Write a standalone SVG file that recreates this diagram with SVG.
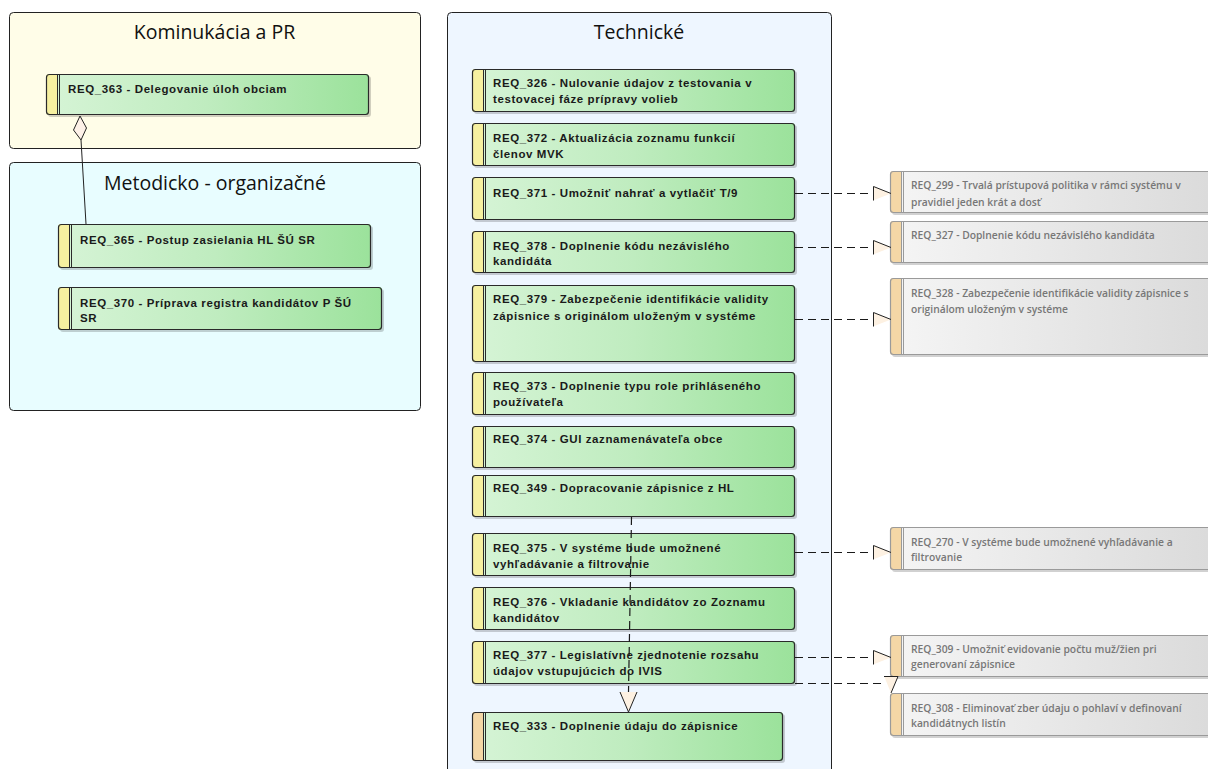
<svg xmlns="http://www.w3.org/2000/svg" width="1208" height="769" viewBox="0 0 1208 769">
<defs>
<linearGradient id="gGreen" x1="0" y1="0" x2="1" y2="0">
<stop offset="0" stop-color="#d6f4d6"/>
<stop offset="0.5" stop-color="#bfecbf"/>
<stop offset="1" stop-color="#9be29b"/>
</linearGradient>
<linearGradient id="gGrey" x1="0" y1="0" x2="1" y2="0">
<stop offset="0" stop-color="#f5f5f5"/>
<stop offset="1" stop-color="#dadada"/>
</linearGradient>
<style>
.cont{stroke:#222;stroke-width:1}
.title{font-family:"Open Sans","Liberation Sans",sans-serif;font-size:19.5px;fill:#111;text-anchor:middle}
.sh{fill:#000;opacity:0.18}
.gbody{fill:url(#gGreen);stroke:none}
.gout{fill:none;stroke:#2a2a2a;stroke-width:1.2}
.ybar{fill:#f6f0a0}
.obar{fill:#f4d7a6}
.dl{stroke:#2a2a2a;stroke-width:1}
.gt{font-family:"Liberation Sans",Arial,sans-serif;font-size:11.5px;font-weight:bold;fill:#1a1a1a;letter-spacing:0.6px}
.rbody{fill:url(#gGrey);stroke:none}
.rout{fill:none;stroke:#9a9a9a;stroke-width:1.2}
.rdl{stroke:#9a9a9a;stroke-width:1}
.rt{font-family:"Open Sans","Liberation Sans",sans-serif;font-size:10.3px;font-weight:600;fill:#777}
.dash{fill:none;stroke:#1a1a1a;stroke-width:1.2;stroke-dasharray:8,5}
.solid{fill:none;stroke:#222;stroke-width:1}
.ahf{fill:#fdf1e2;stroke:none}
.ahs{fill:none;stroke:#222;stroke-width:1}
</style>
</defs>

<!-- containers -->
<g id="kominukacia">
<rect class="cont" x="9.5" y="12.5" width="411" height="136" rx="4" fill="#fffde8"/>
<text class="title" x="214.5" y="39">Kominukácia a PR</text>
</g>
<g id="metodicko">
<rect class="cont" x="9.5" y="162.5" width="411" height="248" rx="4" fill="#e8fdff"/>
<text class="title" x="215" y="190">Metodicko - organizačné</text>
</g>
<g id="technicke">
<rect class="cont" x="447.5" y="12.5" width="384" height="770" rx="4" fill="#eef6ff"/>
<text class="title" x="639" y="39">Technické</text>
</g>

<!-- left nodes -->
<g id="REQ_363">
<rect class="sh" x="48" y="76" width="323" height="41" rx="3"/>
<rect class="gbody" x="46" y="74" width="323" height="41" rx="3"/>
<path class="ybar" d="M57,74 H49 Q46,74 46,77 V112 Q46,115 49,115 H57 Z"/>
<line class="dl" x1="57.5" y1="74" x2="57.5" y2="115"/><line class="dl" x1="59.5" y1="74" x2="59.5" y2="115"/>
<rect class="gout" x="46.5" y="74.5" width="322" height="40" rx="3"/>
<text class="gt" x="68" y="93">REQ_363 - Delegovanie úloh obciam</text>
</g>
<g id="REQ_365">
<rect class="sh" x="60" y="226" width="313" height="44" rx="3"/>
<rect class="gbody" x="58" y="224" width="313" height="44" rx="3"/>
<path class="ybar" d="M69,224 H61 Q58,224 58,227 V265 Q58,268 61,268 H69 Z"/>
<line class="dl" x1="69.5" y1="224" x2="69.5" y2="268"/><line class="dl" x1="71.5" y1="224" x2="71.5" y2="268"/>
<rect class="gout" x="58.5" y="224.5" width="312" height="43" rx="3"/>
<text class="gt" x="80" y="244">REQ_365 - Postup zasielania HL ŠÚ SR</text>
</g>
<g id="REQ_370">
<rect class="sh" x="60" y="289" width="324" height="43" rx="3"/>
<rect class="gbody" x="58" y="287" width="324" height="43" rx="3"/>
<path class="ybar" d="M69,287 H61 Q58,287 58,290 V327 Q58,330 61,330 H69 Z"/>
<line class="dl" x1="69.5" y1="287" x2="69.5" y2="330"/><line class="dl" x1="71.5" y1="287" x2="71.5" y2="330"/>
<rect class="gout" x="58.5" y="287.5" width="323" height="42" rx="3"/>
<text class="gt" x="80" y="307">REQ_370 - Príprava registra kandidátov P ŠÚ</text>
<text class="gt" x="80" y="322">SR</text>
</g>

<!-- technical nodes -->
<g id="REQ_326">
<rect class="sh" x="474" y="71" width="323" height="43" rx="3"/>
<rect class="gbody" x="472" y="69" width="323" height="43" rx="3"/>
<path class="ybar" d="M483,69 H475 Q472,69 472,72 V109 Q472,112 475,112 H483 Z"/>
<line class="dl" x1="483.5" y1="69" x2="483.5" y2="112"/><line class="dl" x1="485.5" y1="69" x2="485.5" y2="112"/>
<rect class="gout" x="472.5" y="69.5" width="322" height="42" rx="3"/>
<text class="gt" x="493" y="87">REQ_326 - Nulovanie údajov z testovania v</text>
<text class="gt" x="493" y="103">testovacej fáze prípravy volieb</text>
</g>
<g id="REQ_372">
<rect class="sh" x="474" y="125" width="323" height="43" rx="3"/>
<rect class="gbody" x="472" y="123" width="323" height="43" rx="3"/>
<path class="ybar" d="M483,123 H475 Q472,123 472,126 V163 Q472,166 475,166 H483 Z"/>
<line class="dl" x1="483.5" y1="123" x2="483.5" y2="166"/><line class="dl" x1="485.5" y1="123" x2="485.5" y2="166"/>
<rect class="gout" x="472.5" y="123.5" width="322" height="42" rx="3"/>
<text class="gt" x="493" y="142">REQ_372 - Aktualizácia zoznamu funkcií</text>
<text class="gt" x="493" y="158">členov MVK</text>
</g>
<g id="REQ_371">
<rect class="sh" x="474" y="179" width="323" height="43" rx="3"/>
<rect class="gbody" x="472" y="177" width="323" height="43" rx="3"/>
<path class="ybar" d="M483,177 H475 Q472,177 472,180 V217 Q472,220 475,220 H483 Z"/>
<line class="dl" x1="483.5" y1="177" x2="483.5" y2="220"/><line class="dl" x1="485.5" y1="177" x2="485.5" y2="220"/>
<rect class="gout" x="472.5" y="177.5" width="322" height="42" rx="3"/>
<text class="gt" x="493" y="197">REQ_371 - Umožniť nahrať a vytlačiť T/9</text>
</g>
<g id="REQ_378">
<rect class="sh" x="474" y="233" width="323" height="42" rx="3"/>
<rect class="gbody" x="472" y="231" width="323" height="42" rx="3"/>
<path class="ybar" d="M483,231 H475 Q472,231 472,234 V270 Q472,273 475,273 H483 Z"/>
<line class="dl" x1="483.5" y1="231" x2="483.5" y2="273"/><line class="dl" x1="485.5" y1="231" x2="485.5" y2="273"/>
<rect class="gout" x="472.5" y="231.5" width="322" height="41" rx="3"/>
<text class="gt" x="493" y="250">REQ_378 - Doplnenie kódu nezávislého</text>
<text class="gt" x="493" y="265">kandidáta</text>
</g>
<g id="REQ_379">
<rect class="sh" x="474" y="287" width="323" height="77" rx="3"/>
<rect class="gbody" x="472" y="285" width="323" height="77" rx="3"/>
<path class="ybar" d="M483,285 H475 Q472,285 472,288 V359 Q472,362 475,362 H483 Z"/>
<line class="dl" x1="483.5" y1="285" x2="483.5" y2="362"/><line class="dl" x1="485.5" y1="285" x2="485.5" y2="362"/>
<rect class="gout" x="472.5" y="285.5" width="322" height="76" rx="3"/>
<text class="gt" x="493" y="303">REQ_379 - Zabezpečenie identifikácie validity</text>
<text class="gt" x="493" y="320">zápisnice s originálom uloženým v systéme</text>
</g>
<g id="REQ_373">
<rect class="sh" x="474" y="374" width="323" height="43" rx="3"/>
<rect class="gbody" x="472" y="372" width="323" height="43" rx="3"/>
<path class="ybar" d="M483,372 H475 Q472,372 472,375 V412 Q472,415 475,415 H483 Z"/>
<line class="dl" x1="483.5" y1="372" x2="483.5" y2="415"/><line class="dl" x1="485.5" y1="372" x2="485.5" y2="415"/>
<rect class="gout" x="472.5" y="372.5" width="322" height="42" rx="3"/>
<text class="gt" x="493" y="390">REQ_373 - Doplnenie typu role prihláseného</text>
<text class="gt" x="493" y="406">používateľa</text>
</g>
<g id="REQ_374">
<rect class="sh" x="474" y="428" width="323" height="42" rx="3"/>
<rect class="gbody" x="472" y="426" width="323" height="42" rx="3"/>
<path class="ybar" d="M483,426 H475 Q472,426 472,429 V465 Q472,468 475,468 H483 Z"/>
<line class="dl" x1="483.5" y1="426" x2="483.5" y2="468"/><line class="dl" x1="485.5" y1="426" x2="485.5" y2="468"/>
<rect class="gout" x="472.5" y="426.5" width="322" height="41" rx="3"/>
<text class="gt" x="493" y="443">REQ_374 - GUI zaznamenávateľa obce</text>
</g>
<g id="REQ_349">
<rect class="sh" x="474" y="477" width="323" height="42" rx="3"/>
<rect class="gbody" x="472" y="475" width="323" height="42" rx="3"/>
<path class="ybar" d="M483,475 H475 Q472,475 472,478 V514 Q472,517 475,517 H483 Z"/>
<line class="dl" x1="483.5" y1="475" x2="483.5" y2="517"/><line class="dl" x1="485.5" y1="475" x2="485.5" y2="517"/>
<rect class="gout" x="472.5" y="475.5" width="322" height="41" rx="3"/>
<text class="gt" x="493" y="492">REQ_349 - Dopracovanie zápisnice z HL</text>
</g>
<g id="REQ_375">
<rect class="sh" x="474" y="535" width="323" height="43" rx="3"/>
<rect class="gbody" x="472" y="533" width="323" height="43" rx="3"/>
<path class="ybar" d="M483,533 H475 Q472,533 472,536 V573 Q472,576 475,576 H483 Z"/>
<line class="dl" x1="483.5" y1="533" x2="483.5" y2="576"/><line class="dl" x1="485.5" y1="533" x2="485.5" y2="576"/>
<rect class="gout" x="472.5" y="533.5" width="322" height="42" rx="3"/>
<text class="gt" x="493" y="552">REQ_375 - V systéme bude umožnené</text>
<text class="gt" x="493" y="568">vyhľadávanie a filtrovanie</text>
</g>
<g id="REQ_376">
<rect class="sh" x="474" y="589" width="323" height="43" rx="3"/>
<rect class="gbody" x="472" y="587" width="323" height="43" rx="3"/>
<path class="ybar" d="M483,587 H475 Q472,587 472,590 V627 Q472,630 475,630 H483 Z"/>
<line class="dl" x1="483.5" y1="587" x2="483.5" y2="630"/><line class="dl" x1="485.5" y1="587" x2="485.5" y2="630"/>
<rect class="gout" x="472.5" y="587.5" width="322" height="42" rx="3"/>
<text class="gt" x="493" y="606">REQ_376 - Vkladanie kandidátov zo Zoznamu</text>
<text class="gt" x="493" y="622">kandidátov</text>
</g>
<g id="REQ_377">
<rect class="sh" x="474" y="643" width="323" height="43" rx="3"/>
<rect class="gbody" x="472" y="641" width="323" height="43" rx="3"/>
<path class="ybar" d="M483,641 H475 Q472,641 472,644 V681 Q472,684 475,684 H483 Z"/>
<line class="dl" x1="483.5" y1="641" x2="483.5" y2="684"/><line class="dl" x1="485.5" y1="641" x2="485.5" y2="684"/>
<rect class="gout" x="472.5" y="641.5" width="322" height="42" rx="3"/>
<text class="gt" x="493" y="659">REQ_377 - Legislatívne zjednotenie rozsahu</text>
<text class="gt" x="493" y="675">údajov vstupujúcich do IVIS</text>
</g>
<g id="REQ_333">
<rect class="sh" x="474" y="714" width="311" height="49" rx="3"/>
<rect class="gbody" x="472" y="712" width="311" height="49" rx="3"/>
<path class="obar" d="M483,712 H475 Q472,712 472,715 V758 Q472,761 475,761 H483 Z"/>
<line class="dl" x1="483.5" y1="712" x2="483.5" y2="761"/><line class="dl" x1="485.5" y1="712" x2="485.5" y2="761"/>
<rect class="gout" x="472.5" y="712.5" width="310" height="48" rx="3"/>
<text class="gt" x="493" y="730">REQ_333 - Doplnenie údaju do zápisnice</text>
</g>

<!-- right grey nodes -->
<g id="REQ_299">
<rect class="sh" x="892" y="173" width="330" height="42" rx="3"/>
<rect class="rbody" x="890" y="171" width="330" height="42" rx="3"/>
<path class="obar" d="M901,171 H893 Q890,171 890,174 V210 Q890,213 893,213 H901 Z"/>
<line class="rdl" x1="901.5" y1="171" x2="901.5" y2="213"/><line class="rdl" x1="903.5" y1="171" x2="903.5" y2="213"/>
<rect class="rout" x="890.5" y="171.5" width="329" height="41" rx="3"/>
<text class="rt" x="911" y="189">REQ_299 - Trvalá prístupová politika v rámci systému v</text>
<text class="rt" x="911" y="206">pravidiel jeden krát a dosť</text>
</g>
<g id="REQ_327">
<rect class="sh" x="892" y="223" width="330" height="42" rx="3"/>
<rect class="rbody" x="890" y="221" width="330" height="42" rx="3"/>
<path class="obar" d="M901,221 H893 Q890,221 890,224 V260 Q890,263 893,263 H901 Z"/>
<line class="rdl" x1="901.5" y1="221" x2="901.5" y2="263"/><line class="rdl" x1="903.5" y1="221" x2="903.5" y2="263"/>
<rect class="rout" x="890.5" y="221.5" width="329" height="41" rx="3"/>
<text class="rt" x="911" y="239">REQ_327 - Doplnenie kódu nezávislého kandidáta</text>
</g>
<g id="REQ_328">
<rect class="sh" x="892" y="280" width="330" height="77" rx="3"/>
<rect class="rbody" x="890" y="278" width="330" height="77" rx="3"/>
<path class="obar" d="M901,278 H893 Q890,278 890,281 V352 Q890,355 893,355 H901 Z"/>
<line class="rdl" x1="901.5" y1="278" x2="901.5" y2="355"/><line class="rdl" x1="903.5" y1="278" x2="903.5" y2="355"/>
<rect class="rout" x="890.5" y="278.5" width="329" height="76" rx="3"/>
<text class="rt" x="911" y="297">REQ_328 - Zabezpečenie identifikácie validity zápisnice s</text>
<text class="rt" x="911" y="313">originálom uloženým v systéme</text>
</g>
<g id="REQ_270">
<rect class="sh" x="892" y="529" width="330" height="43" rx="3"/>
<rect class="rbody" x="890" y="527" width="330" height="43" rx="3"/>
<path class="obar" d="M901,527 H893 Q890,527 890,530 V567 Q890,570 893,570 H901 Z"/>
<line class="rdl" x1="901.5" y1="527" x2="901.5" y2="570"/><line class="rdl" x1="903.5" y1="527" x2="903.5" y2="570"/>
<rect class="rout" x="890.5" y="527.5" width="329" height="42" rx="3"/>
<text class="rt" x="911" y="546">REQ_270 - V systéme bude umožnené vyhľadávanie a</text>
<text class="rt" x="911" y="561">filtrovanie</text>
</g>
<g id="REQ_309">
<rect class="sh" x="892" y="637" width="330" height="42" rx="3"/>
<rect class="rbody" x="890" y="635" width="330" height="42" rx="3"/>
<path class="obar" d="M901,635 H893 Q890,635 890,638 V674 Q890,677 893,677 H901 Z"/>
<line class="rdl" x1="901.5" y1="635" x2="901.5" y2="677"/><line class="rdl" x1="903.5" y1="635" x2="903.5" y2="677"/>
<rect class="rout" x="890.5" y="635.5" width="329" height="41" rx="3"/>
<text class="rt" x="911" y="653">REQ_309 - Umožniť evidovanie počtu muž/žien pri</text>
<text class="rt" x="911" y="668">generovaní zápisnice</text>
</g>
<g id="REQ_308">
<rect class="sh" x="892" y="695" width="330" height="43" rx="3"/>
<rect class="rbody" x="890" y="693" width="330" height="43" rx="3"/>
<path class="obar" d="M901,693 H893 Q890,693 890,696 V733 Q890,736 893,736 H901 Z"/>
<line class="rdl" x1="901.5" y1="693" x2="901.5" y2="736"/><line class="rdl" x1="903.5" y1="693" x2="903.5" y2="736"/>
<rect class="rout" x="890.5" y="693.5" width="329" height="42" rx="3"/>
<text class="rt" x="911" y="712">REQ_308 - Eliminovať zber údaju o pohlaví v definovaní</text>
<text class="rt" x="911" y="727">kandidátnych listín</text>
</g>

<!-- connectors -->
<g id="connectors">
<!-- aggregation 365 -> 363 -->
<line class="solid" x1="81" y1="140" x2="86" y2="224"/>
<polygon points="80,116 86.5,128 81,140 73.5,130" fill="#fdf1e8" stroke="#222" stroke-width="1"/>

<!-- 349 -> 333 -->
<path class="dash" d="M631.5,517 L628.5,692"/>
<polygon class="ahf" points="620,692 637,692 628.5,712"/>
<polyline class="ahs" points="620,692 628.5,712 637,692"/>

<!-- 371 -> 299 -->
<line class="dash" x1="795" y1="193.5" x2="873" y2="193.5"/>
<polygon class="ahf" points="873,186.5 891,193.5 873,200.5"/>
<polyline class="ahs" points="873.5,200.5 873.5,186.5 891,193.5"/>
<!-- 378 -> 327 -->
<line class="dash" x1="795" y1="247.5" x2="873" y2="247.5"/>
<polygon class="ahf" points="873,240.5 891,247.5 873,254.5"/>
<polyline class="ahs" points="873.5,254.5 873.5,240.5 891,247.5"/>
<!-- 379 -> 328 -->
<line class="dash" x1="795" y1="319.5" x2="873" y2="319.5"/>
<polygon class="ahf" points="873,312.5 891,319.5 873,326.5"/>
<polyline class="ahs" points="873.5,326.5 873.5,312.5 891,319.5"/>
<!-- 375 -> 270 -->
<line class="dash" x1="795" y1="552.5" x2="873" y2="552.5"/>
<polygon class="ahf" points="873,545.5 891,552.5 873,559.5"/>
<polyline class="ahs" points="873.5,559.5 873.5,545.5 891,552.5"/>
<!-- 377 -> 309 -->
<line class="dash" x1="795" y1="657.5" x2="873" y2="657.5"/>
<polygon class="ahf" points="873,650.5 891,657.5 873,664.5"/>
<polyline class="ahs" points="873.5,664.5 873.5,650.5 891,657.5"/>
<!-- 377 -> 308 -->
<line class="dash" x1="795" y1="683.5" x2="885" y2="683.5"/>
<polygon class="ahf" points="884,676 898,676 891,693"/>
<polyline class="ahs" points="884,676.5 898,676.5 891,693"/>
</g>
</svg>
